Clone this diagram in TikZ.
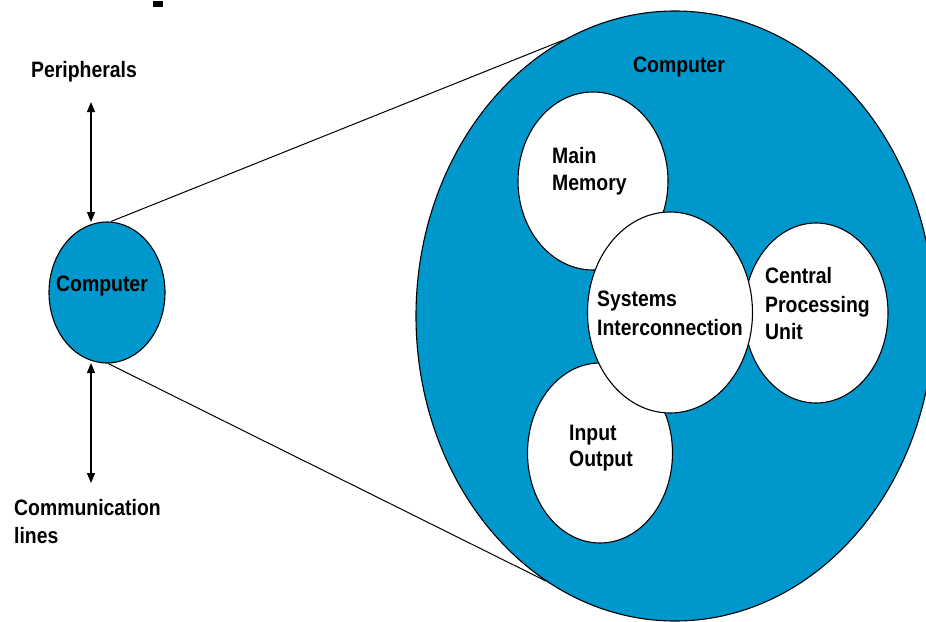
\documentclass[tikz,border=0pt]{standalone}
\usepackage{fontspec}
\setmainfont{Liberation Sans}[FakeStretch=0.87]
\usetikzlibrary{shapes.geometric,arrows.meta}
\definecolor{unitblue}{RGB}{0,152,204}
\begin{document}
\begin{tikzpicture}[x=1pt,y=-1pt,
  blob/.style={ellipse,draw=black,line width=1.1pt,inner sep=0pt},
  lbl/.style={anchor=base west,inner sep=0pt,font=\fontsize{22.3}{27}\selectfont\bfseries},
  link/.style={draw=black,line width=1pt},
  dbl/.style={line width=1.2pt,{Triangle[length=10pt,width=8pt]}-{Triangle[length=10pt,width=8pt]}}]
\useasboundingbox (0,0) rectangle (926,621);
\clip (0,0) rectangle (926,621);

% small mark at the top edge
\fill[black] (153,1) rectangle (163,7);

% the computer seen from outside
\node[blob,fill=unitblue,minimum width=116pt,minimum height=141pt] (pc) at (107,292.5) {};

% the computer seen from inside
\node[blob,fill=unitblue,minimum width=518pt,minimum height=610pt] (sys) at (675,316) {};

% zoom lines
\draw[link] (pc.87.6) -- (sys.112.1);
\draw[link] (pc.-89.2) -- (sys.-116.6);

% inner units
\node[blob,fill=white,minimum width=150pt,minimum height=178pt] (mem) at (593,181) {};
\node[blob,fill=white,minimum width=144pt,minimum height=180pt] (cpu) at (816,313) {};
\node[blob,fill=white,minimum width=145pt,minimum height=180pt] (io) at (600,453) {};
\node[blob,fill=white,minimum width=165pt,minimum height=201pt] (bus) at (670,312.5) {};

% outside connections
\coordinate (pTop) at (91,102);
\coordinate (pBot) at (91,222);
\coordinate (cTop) at (91,363);
\coordinate (cBot) at (91,483);
\draw[dbl] (pTop) -- (pBot);
\draw[dbl] (cTop) -- (cBot);

% labels
\node[lbl] (periph) at (31,77.7) {Peripherals};
\node[lbl] (pctext) at (56,291) {Computer};
\node[lbl] (comm1) at (14,515) {Communication};
\node[lbl] (comm2) at (14,543) {lines};
\node[lbl] (systext) at (633,72) {Computer};
\node[lbl] (mm1) at (552,163) {Main};
\node[lbl] (mm2) at (552,190) {Memory};
\node[lbl] (si1) at (597,306) {Systems};
\node[lbl] (si2) at (597,335) {Interconnection};
\node[lbl] (cpu1) at (765,283) {Central};
\node[lbl] (cpu2) at (765,312) {Processing};
\node[lbl] (cpu3) at (765,339) {Unit};
\node[lbl] (io1) at (569,440) {Input};
\node[lbl] (io2) at (569,466) {Output};
\end{tikzpicture}
\end{document}
